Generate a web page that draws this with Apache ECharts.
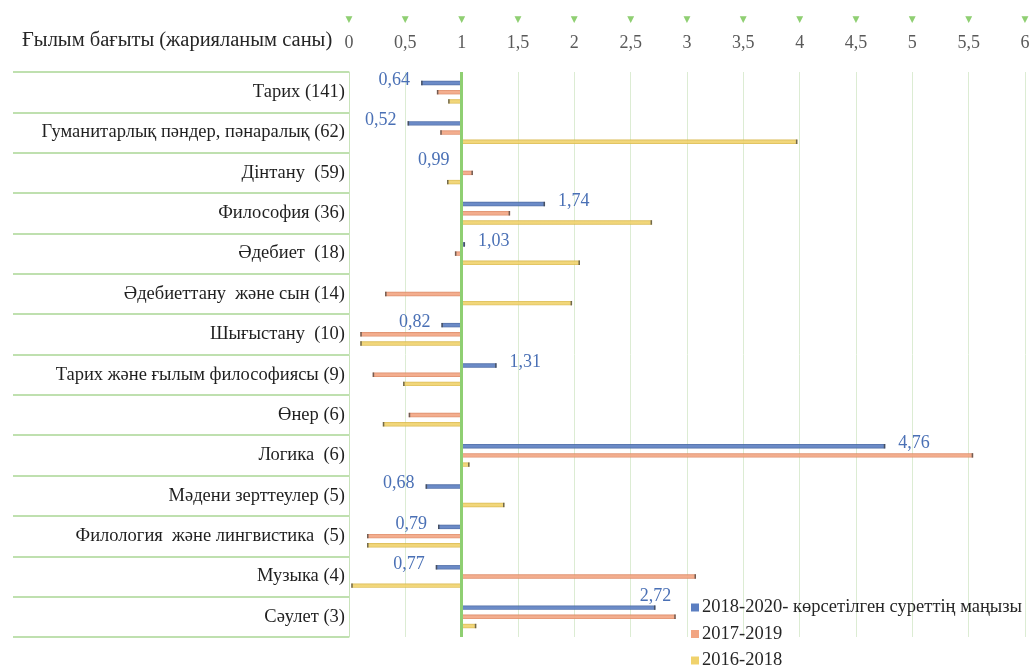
<!DOCTYPE html>
<html>
<head>
<meta charset="utf-8">
<script src="https://cdn.jsdelivr.net/npm/echarts@6/dist/echarts.min.js"></script>
<style>
  html, body { margin: 0; padding: 0; background: #ffffff; }
  #chart { width: 1035px; height: 670px; }
</style>
</head>
<body>
<div id="chart"></div>
<script>
// Research directions (number of publications)
const categories = [
  'Тарих (141)',
  'Гуманитарлық пәндер, пәнаралық (62)',
  'Дінтану  (59)',
  'Философия (36)',
  'Әдебиет  (18)',
  'Әдебиеттану  және сын (14)',
  'Шығыстану  (10)',
  'Тарих және ғылым философиясы (9)',
  'Өнер (6)',
  'Логика  (6)',
  'Мәдени зерттеулер (5)',
  'Филология  және лингвистика  (5)',
  'Музыка (4)',
  'Сәулет (3)'
];

const seriesNames = [
  '2018-2020- көрсетілген суреттің маңызы',
  '2017-2019',
  '2016-2018'
];

// Indicator values per period (bars grow from the reference level 1)
const values2018_2020 = [0.64, 0.52, 0.99, 1.74, 1.03, null, 0.82, 1.31, null, 4.76, 0.68, 0.79, 0.77, 2.72];
const values2017_2019 = [0.78, 0.81, 1.10, 1.43, 0.94, 0.32, 0.10, 0.21, 0.53, 5.54, null, 0.16, 3.08, 2.90];
const values2016_2018 = [0.88, 3.98, 0.87, 2.69, 2.05, 1.98, 0.10, 0.48, 0.30, 1.07, 1.38, 0.16, 0.02, 1.13];

const referenceLevel = 1;
const axisMin = 0;
const axisMax = 6;
const axisStep = 0.5;

const colors = ['#5b7ec1', '#f2a582', '#f0d26c'];
const edgeColors = ['#3f5f9c', '#d9825d', '#d6b444'];
const labelColor = '#4a70b5';
const serif = '"Liberation Serif", "DejaVu Serif", serif';

// Categories whose value label sits above the bar end instead of beside it
const labelAbove = new Set(['Сәулет (3)']);

const comma = v => String(v).replace('.', ',');

function makeSeries(k, values, withLabels) {
  const data = [];
  values.forEach((v, i) => { if (v != null) data.push([v, i]); });
  const slot = (k - 1) * 9.2;
  return {
    name: seriesNames[k],
    type: 'custom',
    itemStyle: { color: colors[k] },
    encode: { x: 0, y: 1 },
    data: data,
    renderItem: function (params, api) {
      const v = api.value(0);
      const idx = api.value(1);
      const base = api.coord([referenceLevel, idx]);
      const end = api.coord([v, idx]);
      const cy = base[1] + slot;
      const h = 4.4;
      const x0 = Math.min(base[0], end[0]);
      const w = Math.max(Math.abs(end[0] - base[0]), 1);
      const children = [
        {
          type: 'rect',
          shape: { x: x0, y: cy - h / 2, width: w, height: h },
          style: {
            fill: new echarts.graphic.LinearGradient(0, 0, 0, 1, [
              { offset: 0, color: edgeColors[k] },
              { offset: 0.35, color: colors[k] },
              { offset: 0.7, color: colors[k] },
              { offset: 1, color: edgeColors[k] }
            ]),
            opacity: 0.9
          }
        },
        {
          type: 'rect',
          shape: { x: end[0] - (v >= referenceLevel ? 1.5 : 0), y: cy - h / 2, width: 1.5, height: h },
          style: { fill: '#3a3a3a', opacity: 0.7 }
        }
      ];
      if (withLabels) {
        const name = categories[idx];
        let tx, ty, align;
        if (labelAbove.has(name)) {
          tx = end[0]; ty = cy - 11; align = 'center';
        } else if (v < referenceLevel) {
          tx = end[0] - 11; ty = cy - 3; align = 'right';
        } else {
          tx = end[0] + 13; ty = cy - 3; align = 'left';
        }
        children.push({
          type: 'text',
          style: {
            text: comma(v),
            x: tx, y: ty,
            align: align,
            verticalAlign: 'middle',
            fill: labelColor,
            font: '18px ' + serif
          }
        });
      }
      return { type: 'group', children: children };
    }
  };
}

const series = [
  makeSeries(0, values2018_2020, true),
  makeSeries(1, values2017_2019, false),
  makeSeries(2, values2016_2018, false)
];

// Reference line at level 1
series[0].markLine = {
  silent: true,
  symbol: 'none',
  label: { show: false },
  lineStyle: { color: '#8fcf72', width: 3, type: 'solid' },
  data: [{ xAxis: referenceLevel }]
};

const chart = echarts.init(document.getElementById('chart'), null, { renderer: 'canvas' });
chart.setOption({
  animation: false,
  backgroundColor: '#ffffff',
  graphic: [{
    type: 'text',
    left: 22,
    top: 30,
    style: {
      text: 'Ғылым бағыты (жарияланым саны)',
      font: '20.5px ' + serif,
      fill: '#262626'
    }
  }],
  legend: {
    orient: 'vertical',
    left: 691,
    top: 598,
    padding: 0,
    itemGap: 7.5,
    itemWidth: 8,
    itemHeight: 8,
    icon: 'rect',
    textStyle: { fontFamily: serif, fontSize: 18.5, lineHeight: 19, color: '#262626', padding: [0, 0, 0, -2] },
    data: seriesNames
  },
  grid: { left: 349, right: 10, top: 72, bottom: 33 },
  xAxis: {
    type: 'value',
    position: 'top',
    min: axisMin,
    max: axisMax,
    interval: axisStep,
    axisLine: { show: false },
    axisTick: { show: false },
    splitLine: { show: true, lineStyle: { color: '#dcecd3', width: 1 } },
    axisLabel: {
      margin: 19,
      formatter: v => '{t|▼}\n{v|' + comma(v) + '}',
      rich: {
        t: { fontSize: 9, color: '#8fcf72', lineHeight: 27, fontFamily: 'DejaVu Sans' },
        v: { fontSize: 18, color: '#595959', lineHeight: 20, fontFamily: serif }
      }
    }
  },
  yAxis: {
    type: 'category',
    inverse: true,
    data: categories,
    axisLine: { show: true, lineStyle: { color: '#c9e3bb', width: 1 } },
    axisTick: { show: true, length: 336, lineStyle: { color: '#bfe0af', width: 2 } },
    axisLabel: {
      margin: 4,
      fontFamily: serif,
      fontSize: 18.5,
      color: '#1f1f1f'
    }
  },
  series: series
});
</script>
</body>
</html>
